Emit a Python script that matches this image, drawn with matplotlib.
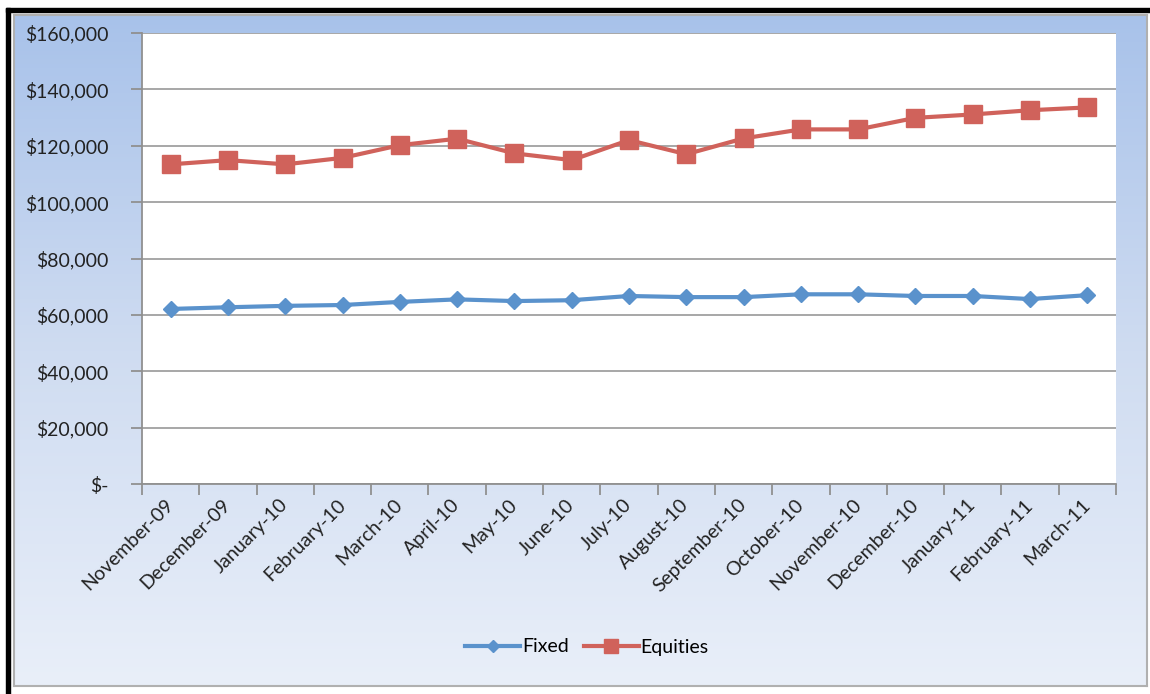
import matplotlib.pyplot as plt
import matplotlib.ticker as mticker
from matplotlib.colors import LinearSegmentedColormap
from matplotlib.patches import Rectangle
import numpy as np

months = ["November-09", "December-09", "January-10", "February-10", "March-10",
          "April-10", "May-10", "June-10", "July-10", "August-10", "September-10",
          "October-10", "November-10", "December-10", "January-11", "February-11",
          "March-11"]
fixed = [62100, 62700, 63200, 63500, 64600, 65500, 64900, 65200, 66700, 66300,
         66300, 67300, 67300, 66700, 66700, 65600, 67000]
equities = [113400, 114900, 113400, 115700, 120200, 122500, 117300, 114900, 122000,
            117000, 122600, 125800, 125800, 129900, 131100, 132600, 133600]
yticks = [0, 20000, 40000, 60000, 80000, 100000, 120000, 140000, 160000]

W, H = 1150, 694
plt.rcParams['font.family'] = ['Lato', 'DejaVu Sans']

fig = plt.figure(figsize=(W / 100, H / 100), dpi=100)
fig.patch.set_facecolor('white')

# chart background with the blue gradient
bg = fig.add_axes([14 / W, (H - 686) / H, (1147 - 14) / W, (686 - 15) / H])
grad = np.linspace(0, 1, 256).reshape(-1, 1)
cmap = LinearSegmentedColormap.from_list('bg', ['#a8c2ea', '#cfdcf1', '#e9eff9'])
bg.imshow(grad, aspect='auto', cmap=cmap, extent=[0, 1, 0, 1])
bg.set_xticks([])
bg.set_yticks([])
for s in bg.spines.values():
    s.set_color('#b0b0b0')
    s.set_linewidth(1.5)

# black edges along the top and left
fig.patches.append(Rectangle((6 / W, 0), 4 / W, (H - 8) / H, transform=fig.transFigure,
                             color='black', zorder=5))
fig.patches.append(Rectangle((6 / W, (H - 12) / H), (W - 6) / W, 4 / H,
                             transform=fig.transFigure, color='black', zorder=5))

ax = fig.add_axes([142 / W, (H - 484) / H, 974 / W, 451 / H])
ax.set_facecolor('white')
x = np.arange(len(months))
ax.plot(x, fixed, color='#5a92cc', lw=3, marker='D', ms=8.5, label='Fixed', zorder=3)
ax.plot(x, equities, color='#d0625b', lw=3, marker='s', ms=12.5, label='Equities', zorder=3)

ax.set_xlim(-0.5, len(months) - 0.5)
ax.set_ylim(0, 160000)
ax.set_yticks(yticks)
ax.yaxis.set_major_formatter(mticker.FuncFormatter(
    lambda v, p: '$-' if v == 0 else '${:,.0f}'.format(v)))
ax.grid(axis='y', color='#a0a0a0', lw=1.3)
ax.set_axisbelow(True)

ax.set_xticks(x)
ax.set_xticklabels(months, rotation=45, ha='right', va='center', rotation_mode='anchor')
ax.set_xticks(np.arange(len(months) + 1) - 0.5, minor=True)
ax.tick_params(axis='x', which='major', length=0, pad=13, labelsize=14, labelcolor='#222222')
ax.tick_params(axis='x', which='minor', length=8, width=1.3, color='#909090')
ax.tick_params(axis='y', length=8, width=1.3, color='#909090', pad=16,
               labelsize=14, labelcolor='#222222')

for side in ['top', 'right']:
    ax.spines[side].set_visible(False)
for side in ['left', 'bottom']:
    ax.spines[side].set_color('#909090')
    ax.spines[side].set_linewidth(1.3)

fig.legend(loc='center', bbox_to_anchor=(587 / W, (H - 647) / H), ncol=2, frameon=False,
           fontsize=14, handlelength=2.8, columnspacing=0.8, handletextpad=0.1,
           markerscale=0.75)

fig.savefig('out.png', dpi=100)
